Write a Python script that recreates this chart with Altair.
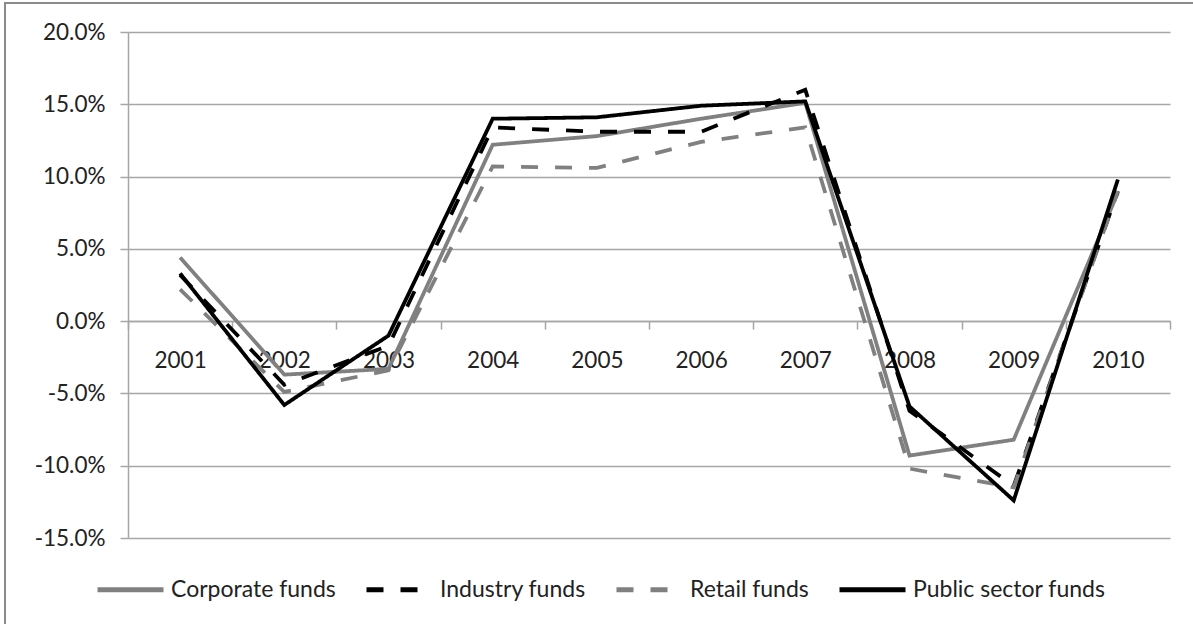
import altair as alt
import pandas as pd

years = ["2001", "2002", "2003", "2004", "2005", "2006", "2007", "2008", "2009", "2010"]
series_names = ["Corporate funds", "Industry funds", "Retail funds", "Public sector funds"]
corporate = [4.4, -3.7, -3.3, 12.2, 12.8, 14.0, 15.1, -9.3, -8.2, 8.9]
industry = [3.2, -4.4, -1.7, 13.4, 13.1, 13.1, 16.0, -6.2, -11.4, 9.0]
retail = [2.2, -4.9, -3.4, 10.7, 10.6, 12.4, 13.4, -10.2, -11.5, 9.0]
public = [3.3, -5.8, -1.0, 14.0, 14.1, 14.9, 15.2, -5.9, -12.4, 9.8]
y_ticks = [-0.15, -0.10, -0.05, 0.0, 0.05, 0.10, 0.15, 0.20]

colors = ["#808080", "#000000", "#808080", "#000000"]
dashes = [[1, 0], [17, 17], [17, 17], [1, 0]]

rows = []
for name, vals in zip(series_names, [corporate, industry, retail, public]):
    for yr, v in zip(years, vals):
        rows.append({"year": yr, "value": v / 100.0, "series": name})
df = pd.DataFrame(rows)

W, H = 1042, 506
grid_col = "#a6a6a6"

x_enc = alt.X(
    "year:O",
    scale=alt.Scale(type="band", paddingInner=0, paddingOuter=0),
    axis=alt.Axis(
        title=None, orient="bottom", offset=-216.9, tickBand="extent",
        labelAngle=0, tickSize=8, labelPadding=20, grid=False,
        domainColor=grid_col, tickColor=grid_col, domainWidth=1.5, tickWidth=1.5,
    ),
)
y_enc = alt.Y(
    "value:Q",
    scale=alt.Scale(domain=[-0.15, 0.20], nice=False, zero=False),
    axis=alt.Axis(
        title=None, values=y_ticks, tickSize=8, labelPadding=15,
        labelExpr="(datum.value < -0.0001 ? '-' : '') + format(abs(datum.value), '.1%')",
        gridColor=grid_col, gridWidth=1.5, domainColor=grid_col, tickColor=grid_col,
        domainWidth=1.5, tickWidth=1.5,
    ),
)
legend_kw = dict(
    title=None, orient="none", legendX=-33, legendY=522, direction="horizontal",
    symbolType="stroke", symbolSize=4356, symbolStrokeWidth=5,
    labelFontSize=23, labelFont="Lato", labelColor="#222222", labelLimit=0,
    columnPadding=20, padding=0, labelOffset=5,
)
color_enc = alt.Color(
    "series:N",
    scale=alt.Scale(domain=series_names, range=colors),
    legend=alt.Legend(**legend_kw),
)
dash_enc = alt.StrokeDash(
    "series:N",
    scale=alt.Scale(domain=series_names, range=dashes),
    legend=alt.Legend(**legend_kw),
)

base = alt.Chart(df)
layers = []
for name in series_names:
    layers.append(
        base.transform_filter(alt.datum.series == name)
        .mark_line(strokeWidth=3.8, strokeCap="butt", strokeJoin="miter")
        .encode(x=x_enc, y=y_enc, color=color_enc, strokeDash=dash_enc)
    )

border_df = pd.DataFrame({"a": [0]})
left_border = alt.Chart(border_df).mark_rule(color="#8a8a8a", strokeWidth=2).encode(
    x=alt.value(-123), y=alt.value(-30), y2=alt.value(600)
)
top_border = alt.Chart(border_df).mark_rule(color="#8a8a8a", strokeWidth=2).encode(
    x=alt.value(-124), x2=alt.value(1100), y=alt.value(-29)
)

chart = (
    alt.layer(*layers, left_border, top_border)
    .properties(
        width=W, height=H,
        padding={"left": 128, "top": 32, "right": 23, "bottom": 86},
        autosize=alt.AutoSizeParams(type="none"),
    )
    .configure_view(stroke=None)
    .configure_axis(labelFont="Lato", labelFontSize=22.5, labelColor="#222222")
)

chart.save("out.html", embed_options={"renderer": "svg", "actions": False})
